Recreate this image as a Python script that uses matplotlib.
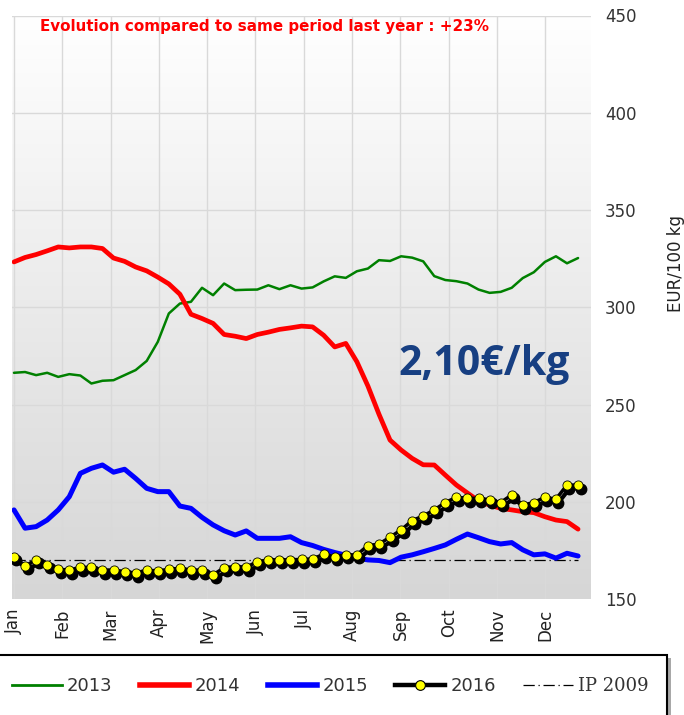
import numpy as np
import matplotlib
matplotlib.use("Agg")
import matplotlib.pyplot as plt
from matplotlib.colors import LinearSegmentedColormap
from matplotlib.lines import Line2D
from matplotlib.patches import Rectangle
import matplotlib.transforms as mtransforms

# ---------------- data (EUR/100 kg, weekly) ----------------
months = ["Jan", "Feb", "Mar", "Apr", "May", "Jun", "Jul", "Aug", "Sep", "Oct", "Nov", "Dec"]

y2013 = [266.3, 266.7, 265.1, 266.3, 264.2, 265.6, 264.9, 260.8, 262.2, 262.5,
         265.1, 267.7, 272.4, 282.2, 296.8, 301.9, 302.8, 310.0, 306.2, 312.2,
         308.8, 309.0, 309.1, 311.3, 309.3, 311.3, 309.6, 310.2, 313.3, 315.9,
         315.1, 318.5, 319.9, 324.2, 323.8, 326.2, 325.5, 323.6, 316.0, 314.0,
         313.4, 312.2, 309.1, 307.4, 307.9, 310.0, 315.0, 318.0, 323.3, 326.2,
         322.6, 325.3]

y2014 = [323.3, 325.6, 327.1, 329.0, 331.0, 330.5, 331.0, 331.0, 330.2, 325.3,
         323.6, 320.7, 318.7, 315.5, 312.0, 306.7, 296.4, 294.2, 291.7, 286.0,
         285.1, 283.9, 286.0, 287.2, 288.6, 289.4, 290.3, 289.9, 285.6, 279.6,
         281.4, 272.0, 259.5, 245.0, 231.7, 226.6, 222.3, 219.0, 218.9, 213.7,
         208.6, 204.5, 200.5, 198.3, 196.6, 195.8, 194.9, 194.4, 192.3, 190.6,
         189.8, 185.9]

y2015 = [195.8, 186.4, 187.2, 190.6, 195.8, 202.6, 214.6, 217.2, 218.9, 215.2,
         216.7, 212.0, 206.9, 205.2, 205.2, 197.8, 196.6, 192.0, 188.1, 185.1,
         182.9, 185.0, 181.2, 181.2, 181.2, 182.0, 179.0, 177.5, 175.5, 173.9,
         172.5, 171.0, 170.1, 169.8, 168.7, 171.5, 172.7, 174.3, 176.0, 177.8,
         180.7, 183.4, 181.5, 179.5, 178.3, 179.0, 175.3, 172.7, 173.2, 171.0,
         173.5, 172.1]

y2016 = [171.8, 167.0, 170.1, 167.5, 165.3, 164.9, 166.3, 166.3, 164.9, 164.9,
         164.1, 163.3, 164.9, 164.4, 165.3, 165.8, 164.9, 164.9, 162.4, 166.1,
         166.7, 166.3, 169.2, 170.1, 170.1, 170.1, 170.4, 170.6, 173.0, 171.8,
         172.7, 172.7, 177.5, 178.2, 181.8, 185.5, 190.3, 192.7, 195.8, 199.6,
         202.3, 201.8, 201.8, 201.0, 199.6, 203.5, 198.3, 199.6, 202.3, 201.3,
         208.6, 208.6]

ip2009 = [170.0] * 52

yticks = [150, 200, 250, 300, 350, 400, 450]

# ---------------- layout ----------------
W, H = 684, 715
fig = plt.figure(figsize=(W / 100, H / 100), dpi=100)
fig.patch.set_facecolor("white")


def fx(px):
    return px / W


def fy(py):
    return 1 - py / H


ax = fig.add_axes([fx(12), fy(599), 579 / W, (599 - 15.5) / H])
weeks = np.arange(len(y2013))
wpm = 48.3 / 11.06  # weeks per month on the axis
xmin, xmax = -0.18, 52.17
ax.set_xlim(xmin, xmax)
ax.set_ylim(150, 450)

# gradient background
cmap = LinearSegmentedColormap.from_list("bg", ["#ffffff", "#d6d6d6"])
grad = np.linspace(0, 1, 256).reshape(-1, 1)
ax.imshow(grad, extent=(xmin, xmax, 150, 450), aspect="auto", cmap=cmap,
          origin="upper", zorder=0, interpolation="bicubic")

ax.set_axisbelow(True)
ax.grid(True, color="#d9d9d9", lw=1.0)
for s in ax.spines.values():
    s.set_visible(False)

ax.plot(weeks, y2013, color="#008000", lw=1.8, zorder=3, solid_capstyle="round")
ax.plot(weeks, y2014, color="#ff0000", lw=3.4, zorder=3, solid_capstyle="round")
ax.plot(weeks, ip2009, color="black", lw=0.9, ls=(0, (9, 3, 1, 3)), zorder=3.5)
ax.plot(weeks, y2015, color="#0000ff", lw=3.6, zorder=4, solid_capstyle="round")

shadow = mtransforms.offset_copy(ax.transData, fig=fig, x=2.5, y=-3.5, units="dots")
ax.plot(weeks, y2016, color="black", lw=3, marker="o", ms=7.5, mfc="black",
        mec="black", transform=shadow, zorder=5)
ax.plot(weeks, y2016, color="black", lw=2.5, zorder=6)
ax.plot(weeks, y2016, lw=0, marker="o", ms=6.6, mfc="#ffff00", mec="black",
        mew=0.6, zorder=7)

ax.set_xticks(np.arange(12) * wpm)
ax.set_xticklabels(months, rotation=90)
ax.tick_params(axis="x", length=0, pad=7, labelsize=12, labelcolor="#222222")
ax.yaxis.tick_right()
ax.set_yticks(yticks)
ax.tick_params(axis="y", length=0, pad=10, labelsize=12, labelcolor="#333333")

# texts
fig.text(fx(40), fy(31), "Evolution compared to same period last year : +23%",
         color="#ff0000", fontsize=10.9, fontweight="bold", va="baseline")
fig.text(fx(398), fy(375), "2,10€/kg", fontsize=29.5, fontweight="bold",
         color="#173f82", family=["Open Sans", "DejaVu Sans"], va="baseline")
fig.text(fx(676), fy(263), "EUR/100 kg", rotation=90, ha="center", va="center",
         fontsize=12, color="#222222")

# legend box with shadow
fig.patches.append(Rectangle((fx(-1), fy(729)), 672 / W, (729 - 658) / H,
                             transform=fig.transFigure, facecolor="#a8a8a8",
                             edgecolor="none", zorder=1))
fig.patches.append(Rectangle((fx(-5), fy(725)), 672 / W, (725 - 654.5) / H,
                             transform=fig.transFigure, facecolor="white",
                             edgecolor="black", lw=1.5, zorder=2))

handles = [
    Line2D([], [], color="#008000", lw=2),
    Line2D([], [], color="#ff0000", lw=4),
    Line2D([], [], color="#0000ff", lw=4),
    Line2D([], [], color="black", lw=3.2, marker="o", ms=7, mfc="#ffff00",
           mec="black", mew=0.8),
    Line2D([], [], color="black", lw=0.9, ls=(0, (9, 3, 1, 3))),
]
labels = ["2013", "2014", "2015", "2016", "IP 2009"]
leg = fig.legend(handles, labels, loc="center left",
                 bbox_to_anchor=(fx(12), fy(686)), ncol=5, frameon=False,
                 fontsize=13, handlelength=2.75, handletextpad=0.3,
                 columnspacing=1.5, borderaxespad=0, borderpad=0, numpoints=1)
for t in leg.get_texts():
    t.set_color("#333333")
leg.get_texts()[-1].set_family(["DejaVu Serif"])
leg.set_zorder(5)

fig.savefig("out.png", dpi=100, facecolor="white")
